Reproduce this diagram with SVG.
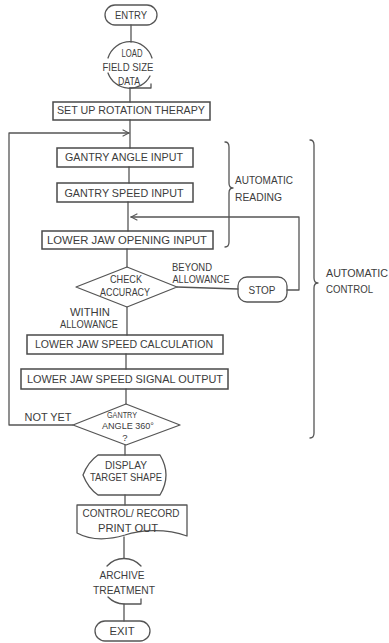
<svg xmlns="http://www.w3.org/2000/svg" width="389" height="643" viewBox="0 0 389 643">
<style>
.s{fill:none;stroke:#555;stroke-width:1.3;stroke-linejoin:round;stroke-linecap:round}
.b{fill:none;stroke:#4a4a4a;stroke-width:1.5}
text{font-family:"Liberation Sans",Arial,sans-serif;font-size:11px;fill:#3c3c3c;text-anchor:middle}
.l{text-anchor:start}
.sm{font-size:9.5px}
</style>
<defs>
<marker id="chev" viewBox="0 0 10 10" refX="9" refY="5" markerWidth="8" markerHeight="8" markerUnits="userSpaceOnUse" orient="auto">
<path d="M1,1 L9,5 L1,9" fill="none" stroke="#555" stroke-width="1.3"/>
</marker>
</defs>
<rect width="389" height="643" fill="#fff"/>
<g id="connectors">
<path class="s" d="M131,25 V42"/>
<path class="s" d="M130,88 V102"/>
<path class="s" d="M130,120 V148"/>
<path class="s" d="M129,167 V183"/>
<path class="s" d="M128,202 V231"/>
<path class="s" d="M127,249 V267"/>
<path class="s" d="M127,307 V335"/>
<path class="s" d="M126,354 V369"/>
<path class="s" d="M126,389 V404"/>
<path class="s" d="M125,445 V455"/>
<path class="s" d="M125,495 V505"/>
<path class="s" d="M124,537 V558"/>
<path class="s" d="M124,604 V621"/>
<path class="s" d="M177,287 L238,289"/>
<path class="s" d="M287,290 H299 V217 H131" marker-end="url(#chev)"/>
<path class="s" d="M73,425 H9 V133 H129" marker-end="url(#chev)"/>
</g>
<g id="entry">
<rect class="s" x="105" y="5" width="52" height="20" rx="10"/>
<text x="131" y="19" textLength="32" lengthAdjust="spacingAndGlyphs">ENTRY</text>
</g>
<g id="load">
<path class="s" d="M108,58 A23,23 0 0 1 152,58"/>
<path class="s" d="M108,73 A23,23 0 0 0 150,76"/>
<path class="s" d="M130,88 H151 V84"/>
<text x="132" y="57" textLength="21" lengthAdjust="spacingAndGlyphs">LOAD</text>
<text x="128" y="71" textLength="51" lengthAdjust="spacingAndGlyphs">FIELD SIZE</text>
<text x="129" y="85" textLength="22" lengthAdjust="spacingAndGlyphs">DATA</text>
</g>
<g id="setup">
<rect class="b" x="53" y="102" width="157" height="18"/>
<text x="131" y="114" textLength="148" lengthAdjust="spacingAndGlyphs">SET UP ROTATION THERAPY</text>
</g>
<g id="gantry-angle">
<rect class="b" x="57" y="148" width="136" height="19"/>
<text x="124" y="161" textLength="118" lengthAdjust="spacingAndGlyphs">GANTRY ANGLE INPUT</text>
</g>
<g id="gantry-speed">
<rect class="b" x="57" y="183" width="136" height="19"/>
<text x="124" y="197" textLength="119" lengthAdjust="spacingAndGlyphs">GANTRY SPEED INPUT</text>
</g>
<g id="jaw-opening">
<rect class="b" x="42" y="231" width="171" height="18"/>
<text x="127" y="244" textLength="160" lengthAdjust="spacingAndGlyphs">LOWER JAW OPENING INPUT</text>
</g>
<g id="check">
<path class="s" d="M127,267 L177,287 L127,307 L76,287 Z"/>
<text x="126" y="283" textLength="32" lengthAdjust="spacingAndGlyphs">CHECK</text>
<text x="125" y="296" textLength="50" lengthAdjust="spacingAndGlyphs">ACCURACY</text>
</g>
<g id="labels-check">
<text x="192" y="271" textLength="40" lengthAdjust="spacingAndGlyphs">BEYOND</text>
<text x="201" y="283" textLength="57" lengthAdjust="spacingAndGlyphs">ALLOWANCE</text>
<text x="90" y="316" textLength="40" lengthAdjust="spacingAndGlyphs">WITHIN</text>
<text x="89" y="328" textLength="58" lengthAdjust="spacingAndGlyphs">ALLOWANCE</text>
</g>
<g id="stop">
<rect class="s" x="238" y="277" width="49" height="25" rx="9"/>
<text x="262" y="294" textLength="27" lengthAdjust="spacingAndGlyphs">STOP</text>
</g>
<g id="jaw-calc">
<rect class="b" x="27" y="335" width="196" height="19"/>
<text x="124" y="348" textLength="178" lengthAdjust="spacingAndGlyphs">LOWER JAW SPEED CALCULATION</text>
</g>
<g id="jaw-signal">
<rect class="b" x="21" y="369" width="207" height="20"/>
<text x="125" y="383" textLength="196" lengthAdjust="spacingAndGlyphs">LOWER JAW SPEED SIGNAL OUTPUT</text>
</g>
<g id="gantry360">
<path class="s" d="M126,404 L180,425 L126,445 L73,425 Z"/>
<text class="sm" x="122" y="418" textLength="30" lengthAdjust="spacingAndGlyphs">GANTRY</text>
<text class="sm" x="128" y="429" textLength="52" lengthAdjust="spacingAndGlyphs">ANGLE 360°</text>
<text class="sm" x="125" y="441">?</text>
<text x="48" y="421" textLength="47" lengthAdjust="spacingAndGlyphs">NOT YET</text>
</g>
<g id="display">
<path class="s" d="M98,455 H160 Q172,475 160,495 H98 Q88,488 83,475 Q88,462 98,455 Z"/>
<text x="126" y="469" textLength="42" lengthAdjust="spacingAndGlyphs">DISPLAY</text>
<text x="126" y="481" textLength="72" lengthAdjust="spacingAndGlyphs">TARGET SHAPE</text>
</g>
<g id="record">
<path class="s" d="M77,505 H187 V536 C165,528 140,530 125,535 C105,541 90,540 77,533 Z"/>
<text x="131" y="517" textLength="97" lengthAdjust="spacingAndGlyphs">CONTROL/ RECORD</text>
<text x="128" y="532" textLength="60" lengthAdjust="spacingAndGlyphs">PRINT OUT</text>
</g>
<g id="archive">
<path class="s" d="M107,566 A23,23 0 0 1 141,566"/>
<path class="s" d="M108,597 A23,23 0 0 0 124,604 H141 V599"/>
<text x="122" y="579" textLength="45" lengthAdjust="spacingAndGlyphs">ARCHIVE</text>
<text x="124" y="594" textLength="62" lengthAdjust="spacingAndGlyphs">TREATMENT</text>
</g>
<g id="exit">
<rect class="s" x="95" y="621" width="55" height="20" rx="10"/>
<text x="122" y="635" textLength="25" lengthAdjust="spacingAndGlyphs">EXIT</text>
</g>
<g id="automatic-reading">
<path class="s" d="M225,142 Q229,142 229,147 V183 Q229,188 233,188 Q229,188 229,193 V242 Q229,247 225,247"/>
<text class="l" x="235" y="184" textLength="58" lengthAdjust="spacingAndGlyphs">AUTOMATIC</text>
<text class="l" x="235" y="201" textLength="47" lengthAdjust="spacingAndGlyphs">READING</text>
</g>
<g id="automatic-control">
<path class="s" d="M310,140 Q314,140 314,145 V278 Q314,283 318,283 Q314,283 314,288 V433 Q314,438 310,438"/>
<text class="l" x="326" y="277" textLength="62" lengthAdjust="spacingAndGlyphs">AUTOMATIC</text>
<text class="l" x="326" y="293" textLength="47" lengthAdjust="spacingAndGlyphs">CONTROL</text>
</g>
</svg>
